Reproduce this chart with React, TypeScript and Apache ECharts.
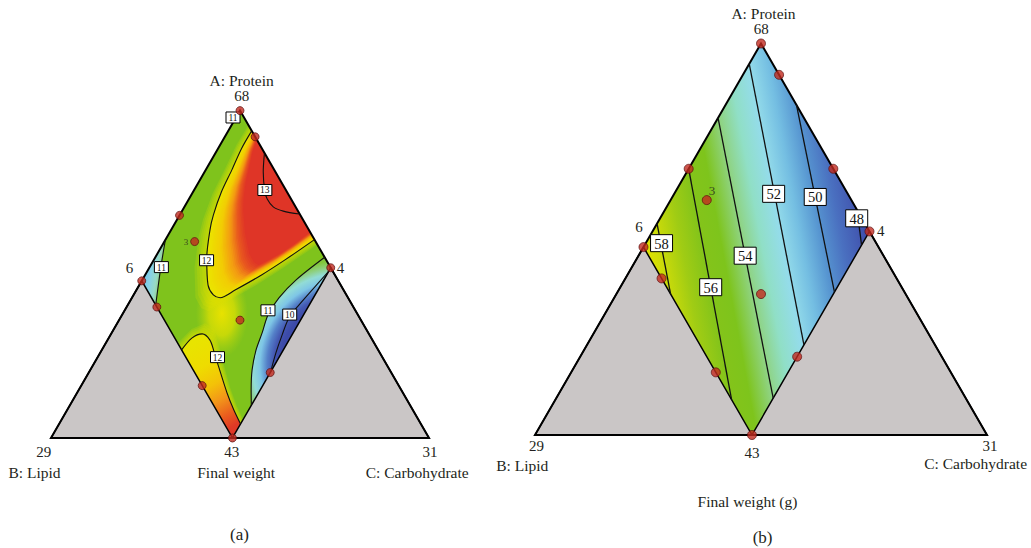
import React, { useEffect, useRef } from 'react';
import * as echarts from 'echarts';

// Mixture compositions are pseudo-component fractions [A: protein, C: carbohydrate];
// B (lipid) = 1 - A - C.
const regionCorners = [[1, 0], [0.48, 0], [0, 0.48], [0.52, 0.48]]; // top, left, bottom, right
const simplexCorners = [[0, 0], [0, 1], [1, 0]]; // B, C, A

const designPointsWeight = [
  [1, 0], [0.92, 0.08], [0.52, 0.48],
  [0.68, 0], [0.6, 0.08], [0.36, 0.32], [0.2, 0.48],
  [0.48, 0], [0.4, 0.08], [0.16, 0.32], [0, 0.48],
];
const designPointsGain = [
  [1, 0], [0.92, 0.08], [0.68, 0.32], [0.52, 0.48],
  [0.68, 0], [0.6, 0.08], [0.36, 0.32], [0.2, 0.48],
  [0.48, 0], [0.4, 0.08], [0.16, 0.32], [0, 0.48],
];
const replicatePoint = [0.6, 0.08];
const replicateCount = '3';

// Final weight contours, left plot
const contourA12Upper = [[0.938, 0.062], [0.885, 0.062], [0.819, 0.069], [0.752, 0.075], [0.681, 0.089], [0.635, 0.103], [0.549, 0.1375], [0.467, 0.182], [0.437, 0.211], [0.4285, 0.233], [0.452, 0.261], [0.498, 0.308], [0.544, 0.347], [0.606, 0.394]];
const contourA13 = [[0.869, 0.13], [0.813, 0.155], [0.755, 0.188], [0.73, 0.207], [0.706, 0.235], [0.693, 0.268], [0.684, 0.316]];
const contourA11Left = [[0.605, 0], [0.521, 0.03], [0.406, 0.074]];
const contourA11Right = [[0.552, 0.448], [0.483, 0.407], [0.428, 0.389], [0.376, 0.386], [0.321, 0.398], [0.269, 0.408], [0.208, 0.428], [0.147, 0.456], [0.1, 0.48]];
const contourA10 = [[0.51, 0.48], [0.452, 0.4645], [0.403, 0.452], [0.3665, 0.446], [0.315, 0.454], [0.26, 0.465], [0.202, 0.48]];
const contourA12Lower = [[0.269, 0.211], [0.305, 0.22], [0.318, 0.241], [0.299, 0.271], [0.263, 0.3], [0.214, 0.3375], [0.1375, 0.397], [0.0855, 0.441], [0.043, 0.48]];
const labelTextA = ['11', '13', '12', '11', '11', '10', '12'];
const labelPosA = [[0.979, -0.008], [0.7575, 0.187], [0.543, 0.14], [0.522, 0.031], [0.39, 0.379], [0.377, 0.443], [0.247, 0.317]];

// Final weight (g) contours, right plot
const levelsB = ['58', '56', '54', '52', '50', '48'];
const contoursB = [
  [[0.54, 0], [0.36, 0.12]],
  [[0.68, 0], [0.09, 0.39]],
  [[0.81, 0], [0.094, 0.48]],
  [[0.948, 0], [0.23, 0.48]],
  [[0.843, 0.157], [0.365, 0.48]],
  [[0.575, 0.425], [0.485, 0.48]],
];
const labelPosB = [[0.49, 0.035], [0.3775, 0.2], [0.458, 0.236], [0.616, 0.22], [0.608, 0.316], [0.5535, 0.435]];

const SERIF = '"Liberation Serif", "Times New Roman", serif';
const GREY = '#cac6c6';

const toXY = (t: number[]) => [t[1] + t[0] / 2, t[0]];
const same = (p: number[], q: number[]) => Math.abs(p[0] - q[0]) < 1e-6 && Math.abs(p[1] - q[1]) < 1e-6;

// colour ramp of the right plot, by response level
const gainColours: [number, string][] = [
  [59, '#e2e200'], [58, '#c8da0a'], [57, '#a0cc14'], [56, '#84c41a'], [55, '#7ec41c'],
  [54, '#8ed27c'], [53, '#90dfc6'], [52, '#94dcea'], [51, '#74bee2'], [50, '#5694d0'],
  [49, '#4a70c0'], [48, '#4256b0'], [47, '#3c48a8'],
];

// yellow (level 12) to red (level 13 and above)
const hotRamp: [number, string][] = [[0, '#ebe400'], [0.35, '#f2cc04'], [0.6, '#f39a12'], [0.8, '#e8581f'], [1, '#df3527']];

function hex(c: string) {
  return [parseInt(c.slice(1, 3), 16), parseInt(c.slice(3, 5), 16), parseInt(c.slice(5, 7), 16)];
}
function rampColour(ramp: [number, string][], t: number) {
  for (let i = 1; i < ramp.length; i++) {
    if (t <= ramp[i][0]) {
      const [t0, c0] = ramp[i - 1];
      const [t1, c1] = ramp[i];
      const f = (t - t0) / (t1 - t0);
      const a = hex(c0), b = hex(c1);
      return `rgb(${a.map((v, k) => Math.round(v + (b[k] - v) * f)).join(',')})`;
    }
  }
  return ramp[ramp.length - 1][1];
}

// polygon shrunk (k < 1) or grown (k > 1) about an anchor, separately along e and across it (nn)
function shell(pts: number[][], core: number[], e: number[], nn: number[], ku: number, kw: number) {
  return pts.map((p) => {
    const u = (p[0] - core[0]) * e[0] + (p[1] - core[1]) * e[1];
    const w = (p[0] - core[0]) * nn[0] + (p[1] - core[1]) * nn[1];
    return [core[0] + ku * u * e[0] + kw * w * nn[0], core[1] + ku * u * e[1] + kw * w * nn[1]];
  });
}

function frame(api: any, P: (t: number[]) => number[], withMasks: boolean) {
  const els: any[] = [];
  const left = P(regionCorners[1]);
  const bottom = P(regionCorners[2]);
  const right = P(regionCorners[3]);
  const B = P(simplexCorners[0]);
  const C = P(simplexCorners[1]);
  const A = P(simplexCorners[2]);
  if (withMasks) {
    const m = (pts: number[][]) => ({ type: 'polygon', shape: { points: pts.map((p) => api.coord(p)) }, style: { fill: '#fff' } });
    els.push(m([[0, 0], [0.5, 1], [0.5, 1.09], [-0.1, 1.09], [-0.1, 0]]));
    els.push(m([[1, 0], [1.1, 0], [1.1, 1.09], [0.5, 1.09], [0.5, 1]]));
    els.push(m([[-0.1, 0], [1.1, 0], [1.1, -0.06], [-0.1, -0.06]]));
  }
  const tri = (pts: number[][]) => ({ type: 'polygon', shape: { points: pts }, style: { fill: GREY, stroke: '#000', lineWidth: 1.5, lineJoin: 'miter' } });
  els.push(tri([B, left, bottom]));
  els.push(tri([C, bottom, right]));
  els.push({ type: 'polygon', shape: { points: [B, C, A] }, style: { fill: 'none', stroke: '#000', lineWidth: 2, lineJoin: 'miter' } });
  return els;
}

function renderFieldA(params: any, api: any) {
  const P = (t: number[]) => api.coord(toXY(t));
  const top = P(regionCorners[0]);
  const left = P(regionCorners[1]);
  const bottom = P(regionCorners[2]);
  const right = P(regionCorners[3]);
  const els: any[] = [];

  // base green
  els.push({ type: 'polygon', shape: { points: [top, left, bottom, right] }, style: { fill: '#7fc31c' } });

  // yellow saddle between the two high regions
  const sc = P([0.38, 0.262]);
  els.push({
    type: 'ellipse', shape: { cx: sc[0], cy: sc[1], rx: 26, ry: 44 },
    style: {
      fill: new echarts.graphic.RadialGradient(0.5, 0.5, 0.5, [
        { offset: 0, color: 'rgba(232,226,0,1)' },
        { offset: 0.5, color: 'rgba(216,222,4,0.8)' },
        { offset: 1, color: 'rgba(180,212,12,0)' },
      ]),
    },
  });

  // low region at the left corner
  const lf = contourA11Left.map(P);
  const dx = lf[lf.length - 1][0] - lf[0][0];
  const dy = lf[lf.length - 1][1] - lf[0][1];
  const dl = Math.hypot(dx, dy);
  let nx = dy / dl, ny = -dx / dl;
  let dist = (lf[0][0] - left[0]) * nx + (lf[0][1] - left[1]) * ny;
  if (dist < 0) { nx = -nx; ny = -ny; dist = -dist; }
  els.push({
    type: 'polygon', shape: { points: [...lf, left] },
    style: {
      fill: new echarts.graphic.LinearGradient(left[0], left[1], left[0] + nx * dist, left[1] + ny * dist, [
        { offset: 0, color: '#70c0e6' },
        { offset: 0.45, color: '#88d2e6' },
        { offset: 0.8, color: '#98dac4' },
        { offset: 1, color: '#92d090' },
      ], true),
    },
  });

  // low band along the lower right edge
  const rt = contourA11Right.map(P);
  const bc = P([0.223, 0.666]);
  els.push({
    type: 'polygon', shape: { points: [...rt, right] },
    style: {
      fill: new echarts.graphic.RadialGradient(bc[0], bc[1], 105, [
        { offset: 0, color: '#3a48a6' },
        { offset: 0.62, color: '#3c4aa8' },
        { offset: 0.68, color: '#4458b2' },
        { offset: 0.74, color: '#5480c8' },
        { offset: 0.81, color: '#7ec6e6' },
        { offset: 0.88, color: '#92dcd6' },
        { offset: 0.94, color: '#8ed080' },
        { offset: 1, color: '#82c63a' },
      ], true),
    },
  });

  // high region along the top right edge, painted as nested shells about the edge
  const core = P([0.7575, 0.2403]);
  const ex = right[0] - top[0], ey = right[1] - top[1];
  const el = Math.hypot(ex, ey);
  const e = [ex / el, ey / el];
  const nn = [-e[1], e[0]];
  const up = contourA12Upper.map(P);
  for (let i = 5; i >= 1; i--) {
    els.push({ type: 'polygon', shape: { points: shell(up, core, e, nn, 1 + 0.02 * i, 1 + 0.03 * i) }, style: { fill: 'rgba(226,224,0,0.2)' } });
  }
  const N = 26;
  for (let i = 0; i <= N; i++) {
    const t = i / N;
    els.push({ type: 'polygon', shape: { points: shell(up, core, e, nn, 1 - 0.15 * t, 1 - 0.45 * t) }, style: { fill: rampColour(hotRamp, t) } });
  }

  // high region at the bottom corner
  const lo = [...contourA12Lower.map(P), bottom];
  const lx = left[0] - bottom[0], ly = left[1] - bottom[1];
  const ll = Math.hypot(lx, ly);
  const e2 = [lx / ll, ly / ll];
  let n2 = [-e2[1], e2[0]];
  if ((right[0] - bottom[0]) * n2[0] + (right[1] - bottom[1]) * n2[1] < 0) n2 = [-n2[0], -n2[1]];
  for (let i = 5; i >= 1; i--) {
    els.push({ type: 'polygon', shape: { points: shell(lo, bottom, e2, n2, 1 + 0.015 * i, 1 + 0.06 * i) }, style: { fill: 'rgba(226,224,0,0.2)' } });
  }
  const ls = P(contourA12Lower[0]);
  els.push({
    type: 'polygon', shape: { points: lo },
    style: {
      fill: new echarts.graphic.LinearGradient(ls[0], ls[1], bottom[0], bottom[1], [
        { offset: 0, color: '#e8e400' },
        { offset: 0.25, color: '#eedc00' },
        { offset: 0.45, color: '#f3c208' },
        { offset: 0.62, color: '#f2941a' },
        { offset: 0.78, color: '#ea5c1e' },
        { offset: 0.9, color: '#e03a26' },
        { offset: 1, color: '#df3527' },
      ], true),
    },
  });

  return { type: 'group', children: [...els, ...frame(api, P, true)] };
}

function renderFieldB(params: any, api: any) {
  const P = (t: number[]) => api.coord(toXY(t));
  const top = P(regionCorners[0]);
  const left = P(regionCorners[1]);
  const bottom = P(regionCorners[2]);
  const right = P(regionCorners[3]);

  // the response is planar here: colour runs across the contour direction
  const c0 = contoursB[1].map(P);
  const dx = c0[1][0] - c0[0][0], dy = c0[1][1] - c0[0][1];
  const dl = Math.hypot(dx, dy);
  let n = [dy / dl, -dx / dl];
  if ((right[0] - left[0]) * n[0] + (right[1] - left[1]) * n[1] < 0) n = [-n[0], -n[1]];
  const s = (p: number[]) => p[0] * n[0] + p[1] * n[1];
  const mid = (k: number) => {
    const q = contoursB[k].map(P);
    return [(q[0][0] + q[1][0]) / 2, (q[0][1] + q[1][1]) / 2];
  };
  const first = 0, last = contoursB.length - 1;
  const vFirst = Number(levelsB[first]), vLast = Number(levelsB[last]);
  const sFirst = s(mid(first)), sLast = s(mid(last));
  const per = (sLast - sFirst) / (vFirst - vLast);
  const sL = s(left), sR = s(right);
  const stops = gainColours.map(([v, color]) => {
    const sv = sFirst + (vFirst - v) * per;
    return { offset: Math.min(1, Math.max(0, (sv - sL) / (sR - sL))), color };
  });
  const span = sR - sL;
  const els: any[] = [{
    type: 'polygon', shape: { points: [top, left, bottom, right] },
    style: { fill: new echarts.graphic.LinearGradient(left[0], left[1], left[0] + n[0] * span, left[1] + n[1] * span, stops, true) },
  }];
  return { type: 'group', children: [...els, ...frame(api, P, false)] };
}

const pointStyle = { color: '#c22a1f', borderColor: '#5a1010', borderWidth: 0.9 };

function designSeries(points: number[][], axis: number, size: number, labelOpt: any) {
  return {
    type: 'scatter', xAxisIndex: axis, yAxisIndex: axis, z: 6, silent: true, clip: false,
    symbolSize: size, itemStyle: pointStyle,
    data: points.map((p) => (same(p, replicatePoint)
      ? { value: toXY(p), label: { show: true, formatter: replicateCount, fontFamily: SERIF, color: '#231f20', ...labelOpt } }
      : { value: toXY(p) })),
  };
}

// boxed contour level labels
function contourLabelSeries(pos: number[][], text: string[], axis: number, font: number, w: number, h: number) {
  return {
    type: 'custom', xAxisIndex: axis, yAxisIndex: axis, z: 5, silent: true, clip: false,
    data: pos.map((p) => toXY(p)),
    renderItem: (params: any, api: any) => {
      const c = api.coord([api.value(0), api.value(1)]);
      return {
        type: 'group',
        children: [
          { type: 'rect', shape: { x: c[0] - w / 2, y: c[1] - h / 2, width: w, height: h }, style: { fill: '#fff', stroke: '#000', lineWidth: 1 } },
          {
            type: 'text', x: c[0], y: c[1] + 0.5,
            style: { text: text[params.dataIndex], font: `${font}px ${SERIF}`, fill: '#111', textAlign: 'center', textVerticalAlign: 'middle' },
          },
        ],
      };
    },
  };
}

const text = (t: string, x: number, y: number, size = 15.5) => ({
  type: 'text', x, y, z: 100,
  style: { text: t, fill: '#231f20', font: `${size}px ${SERIF}`, textAlign: 'center', textVerticalAlign: 'middle' },
});

function buildOption() {
  const contourA = [contourA12Upper, contourA13, contourA11Left, contourA11Right, contourA10, contourA12Lower];
  return {
    animation: false,
    backgroundColor: '#fff',
    grid: [
      { left: 51, top: 110.6, width: 378, height: 327.4 },
      { left: 535, top: 43.5, width: 452, height: 391.5 },
    ],
    xAxis: [0, 1].map((g) => ({ gridIndex: g, type: 'value', min: 0, max: 1, show: false })),
    yAxis: [0, 1].map((g) => ({ gridIndex: g, type: 'value', min: 0, max: 1, show: false })),
    series: [
      { type: 'custom', xAxisIndex: 0, yAxisIndex: 0, z: 1, silent: true, data: [[0.5, 0.5]], renderItem: renderFieldA },
      { type: 'custom', xAxisIndex: 1, yAxisIndex: 1, z: 1, silent: true, data: [[0.5, 0.5]], renderItem: renderFieldB },
      ...contourA.map((pts) => ({
        type: 'line', xAxisIndex: 0, yAxisIndex: 0, z: 3, silent: true, clip: false,
        data: pts.map(toXY), smooth: 0.3, symbol: 'none', lineStyle: { color: '#111', width: 1.1 },
      })),
      ...contoursB.map((pts) => ({
        type: 'line', xAxisIndex: 1, yAxisIndex: 1, z: 3, silent: true, clip: false,
        data: pts.map(toXY), symbol: 'none', lineStyle: { color: '#111', width: 1.3 },
      })),
      contourLabelSeries(labelPosA, labelTextA, 0, 9.5, 14, 11),
      contourLabelSeries(labelPosB, levelsB, 1, 14.5, 22, 17),
      designSeries(designPointsWeight, 0, 8, { fontSize: 9, position: 'left', distance: 2 }),
      designSeries(designPointsGain, 1, 9, { fontSize: 13, position: [10.2, -4.8], align: 'center', verticalAlign: 'middle' }),
    ],
    graphic: [
      text('A: Protein', 241.7, 80.7),
      text('68', 241.7, 95.5, 15),
      text('6', 129.5, 267.5, 15),
      text('4', 340.5, 267.5, 15),
      text('29', 43.7, 452.3, 15),
      text('43', 231.7, 452.3, 15),
      text('31', 430, 452.3, 15),
      text('B: Lipid', 34.5, 472.3),
      text('Final weight', 236.2, 472.3),
      text('C: Carbohydrate', 417.2, 472.3),
      text('(a)', 239.5, 534, 17),
      text('A: Protein', 763.5, 13.5),
      text('68', 761.3, 29.3, 15),
      text('6', 639, 227.3, 15),
      text('4', 880.7, 230.5, 15),
      text('29', 536.5, 446, 15),
      text('43', 752, 452.8, 15),
      text('31', 990, 446, 15),
      text('B: Lipid', 522.3, 465),
      text('C: Carbohydrate', 975.6, 463),
      text('Final weight (g)', 747.5, 501.8),
      text('(b)', 762.6, 537, 17),
    ],
  };
}

export default function App() {
  const ref = useRef<HTMLDivElement>(null);
  useEffect(() => {
    if (!ref.current) return;
    const chart = echarts.init(ref.current, null, { renderer: 'svg' });
    chart.setOption(buildOption() as any);
    return () => chart.dispose();
  }, []);
  return (
    <div
      ref={ref}
      style={{ position: 'fixed', left: 0, top: 0, width: 1031, height: 548, background: '#fff' }}
    />
  );
}
